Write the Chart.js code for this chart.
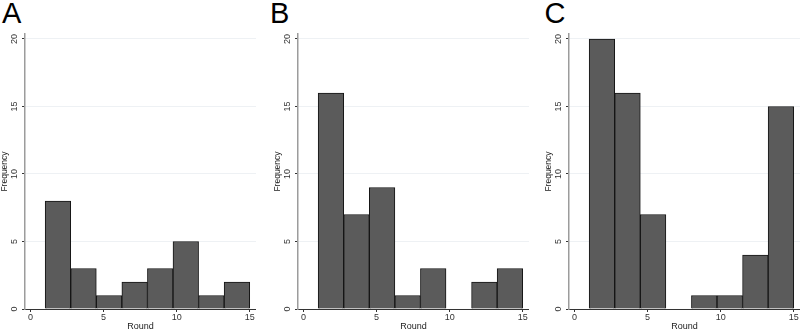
<!DOCTYPE html>
<html><head><meta charset="utf-8">
<script src="https://cdn.jsdelivr.net/npm/chart.js@4.4.0/dist/chart.umd.min.js"></script>
<style>
html,body{margin:0;padding:0;background:#fff;width:800px;height:332px;overflow:hidden;position:relative;}
.letter{position:absolute;top:-1px;font-family:"Liberation Sans",Arial,sans-serif;font-size:29px;line-height:29px;color:#000;}
canvas{position:absolute;top:0;}
</style></head><body>
<script>
// ---- data ----
const panelLabels = ['A', 'B', 'C'];
const binCenters = [1.875, 3.625, 5.375, 7.125, 8.875, 10.625, 12.375, 14.125];
const freqA = [8, 3, 1, 2, 3, 5, 1, 2];
const freqB = [16, 7, 9, 1, 3, 0, 2, 3];
const freqC = [20, 16, 7, 0, 1, 1, 4, 15];
const xTickValues = [0, 5, 10, 15];
const yTickValues = [0, 5, 10, 15, 20];
const xAxisTitle = 'Round';
const yAxisTitle = 'Frequency';

const FONT = '"Liberation Sans", Arial, Helvetica, sans-serif';
const panels = [
  { label: panelLabels[0], values: freqA, left: 0,   letterLeft: 2 },
  { label: panelLabels[1], values: freqB, left: 273, letterLeft: 270 },
  { label: panelLabels[2], values: freqC, left: 544, letterLeft: 544.5 }
];

panels.forEach((p, idx) => {
  const lt = document.createElement('div');
  lt.className = 'letter';
  lt.style.left = p.letterLeft + 'px';
  lt.textContent = p.label;
  document.body.appendChild(lt);

  const cv = document.createElement('canvas');
  cv.width = 256; cv.height = 332;
  cv.style.left = p.left + 'px';
  document.body.appendChild(cv);

  new Chart(cv, {
    type: 'bar',
    data: {
      datasets: [{
        data: binCenters.map((x, i) => ({ x: x, y: p.values[i] })),
        backgroundColor: '#5b5b5b',
        borderColor: '#141414',
        borderWidth: 1,
        barPercentage: 1,
        categoryPercentage: 1
      }]
    },
    options: {
      responsive: false,
      animation: false,
      devicePixelRatio: 1,
      layout: { padding: { top: 34, left: 0, right: 0, bottom: 0 } },
      plugins: { legend: { display: false }, tooltip: { enabled: false } },
      scales: {
        x: {
          type: 'linear',
          min: -0.38, max: 15.43,
          offset: false,
          afterBuildTicks: s => { s.ticks = xTickValues.map(v => ({ value: v })); },
          afterFit: s => { s.height = 23; },
          border: { color: '#333', width: 1 },
          grid: { offset: false, drawOnChartArea: false, drawTicks: true, tickLength: 3, tickColor: '#333' },
          ticks: { font: { family: FONT, size: 9 }, color: '#333', padding: 0, maxRotation: 0, minRotation: 0, autoSkip: false },
          title: { display: true, text: xAxisTitle, font: { family: FONT, size: 9 }, color: '#222', padding: { top: 0, bottom: 0 } }
        },
        y: {
          type: 'linear',
          min: 0, max: 20.37,
          afterBuildTicks: s => { s.ticks = yTickValues.map(v => ({ value: v })); },
          afterFit: s => { s.width = 25; },
          border: { color: '#9c9c9c', width: 1.5 },
          grid: { color: '#eef1f4', lineWidth: 1, drawTicks: true, tickLength: 3, tickColor: '#333' },
          ticks: { font: { family: FONT, size: 9 }, color: '#333', padding: 2, minRotation: 90, maxRotation: 90, crossAlign: 'center', autoSkip: false },
          title: { display: true, text: yAxisTitle, font: { family: FONT, size: 8.5 }, color: '#222', padding: { top: 0, bottom: 0 } }
        }
      }
    }
  });
});
</script>
</body></html>
